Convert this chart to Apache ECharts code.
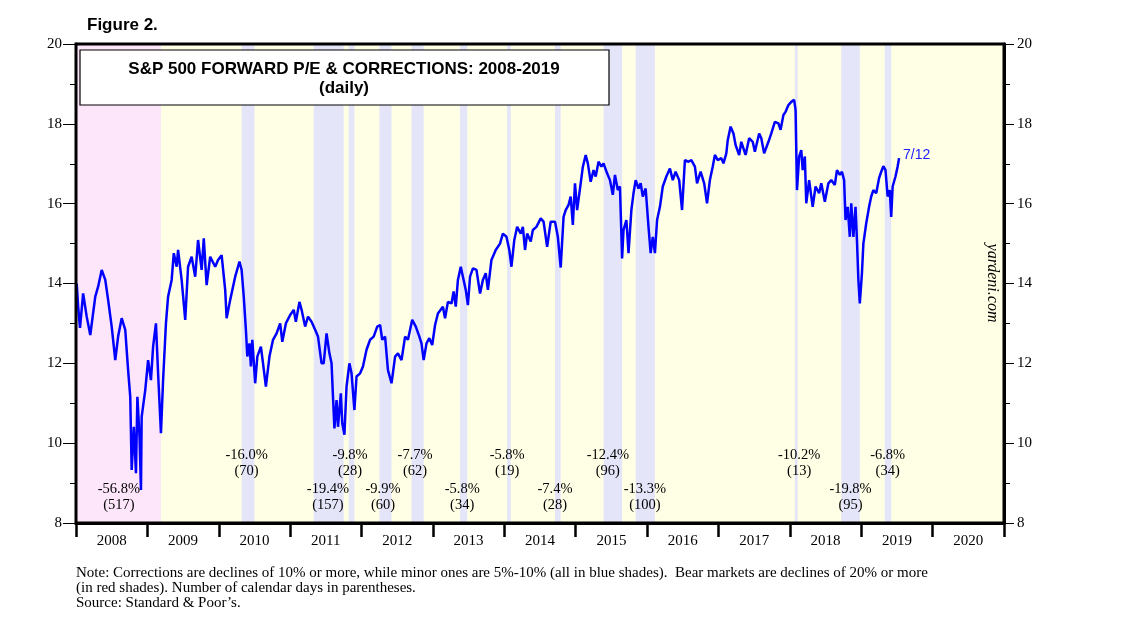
<!DOCTYPE html>
<html>
<head>
<meta charset="utf-8">
<script src="https://cdn.jsdelivr.net/npm/echarts@6/dist/echarts.min.js"></script>
<style>html,body{margin:0;padding:0;background:#fff;}#c{width:1138px;height:628px;}</style>
</head>
<body>
<div id="c"></div>
<script>
// ---- data (decimal years) ----
const years = ['2008','2009','2010','2011','2012','2013','2014','2015','2016','2017','2018','2019','2020'];
const peDates = [2008.01,2008.03,2008.056,2008.10,2008.15,2008.20,2008.27,2008.31,2008.36,2008.41,2008.45,2008.50,2008.55,2008.59,2008.64,2008.69,2008.73,2008.76,2008.78,2008.81,2008.84,2008.86,2008.89,2008.91,2008.92,2008.97,
2009.01,2009.05,2009.08,2009.12,2009.15,2009.19,2009.22,2009.26,2009.29,2009.34,2009.37,2009.41,2009.43,2009.48,2009.53,2009.57,2009.62,2009.67,2009.71,2009.76,2009.79,2009.83,2009.88,2009.95,2009.99,
2010.04,2010.09,2010.11,2010.16,2010.23,2010.29,2010.32,2010.35,2010.38,2010.40,2010.43,2010.45,2010.47,2010.51,2010.54,2010.59,2010.62,2010.66,2010.71,2010.76,2010.81,2010.86,2010.89,2010.94,
2011.00,2011.05,2011.08,2011.13,2011.16,2011.21,2011.25,2011.30,2011.35,2011.39,2011.44,2011.47,2011.51,2011.55,2011.58,2011.60,2011.62,2011.65,2011.67,2011.71,2011.73,2011.76,2011.79,2011.83,2011.86,2011.90,2011.93,2011.98,
2012.02,2012.07,2012.12,2012.17,2012.22,2012.26,2012.29,2012.33,2012.37,2012.42,2012.47,2012.51,2012.56,2012.61,2012.65,2012.71,2012.76,2012.81,2012.84,2012.87,2012.91,2012.95,2012.99,
2013.03,2013.07,2013.14,2013.17,2013.21,2013.26,2013.29,2013.32,2013.35,2013.39,2013.42,2013.46,2013.49,2013.52,2013.56,2013.61,2013.66,2013.70,2013.74,2013.77,2013.82,2013.88,2013.94,2013.98,
2014.03,2014.07,2014.10,2014.14,2014.18,2014.23,2014.26,2014.29,2014.32,2014.37,2014.40,2014.45,2014.51,2014.55,2014.60,2014.65,2014.71,2014.75,2014.79,2014.83,2014.86,2014.90,2014.93,2014.96,2014.99,
2015.02,2015.07,2015.10,2015.14,2015.17,2015.21,2015.25,2015.28,2015.32,2015.36,2015.39,2015.44,2015.48,2015.52,2015.55,2015.59,2015.62,2015.65,2015.67,2015.71,2015.74,2015.78,2015.81,2015.84,2015.88,2015.91,2015.94,2015.98,
2016.02,2016.05,2016.08,2016.11,2016.14,2016.18,2016.22,2016.27,2016.32,2016.36,2016.40,2016.45,2016.49,2016.53,2016.58,2016.62,2016.67,2016.70,2016.75,2016.80,2016.84,2016.88,2016.92,2016.95,2016.99,
2017.04,2017.07,2017.11,2017.13,2017.17,2017.21,2017.24,2017.29,2017.32,2017.38,2017.43,2017.48,2017.51,2017.57,2017.60,2017.64,2017.70,2017.74,2017.79,2017.84,2017.87,2017.91,2017.94,2017.98,
2018.02,2018.06,2018.08,2018.10,2018.13,2018.16,2018.18,2018.21,2018.23,2018.27,2018.29,2018.32,2018.36,2018.41,2018.44,2018.49,2018.54,2018.58,2018.63,2018.66,2018.70,2018.73,2018.76,2018.78,2018.81,2018.84,2018.86,2018.89,2018.92,2018.94,2018.96,2018.98,
2019.01,2019.03,2019.07,2019.11,2019.14,2019.17,2019.21,2019.25,2019.28,2019.31,2019.34,2019.37,2019.40,2019.42,2019.44,2019.48,2019.51,2019.53];
const peValues = [14.0,13.42,12.89,13.75,13.17,12.71,13.67,13.92,14.34,14.09,13.59,12.92,12.08,12.67,13.13,12.84,11.83,11.16,9.33,10.41,9.25,11.16,10.16,8.83,10.66,11.33,
12.08,11.58,12.42,13.0,11.75,10.25,11.58,13.0,13.67,14.09,14.76,14.42,14.84,14.09,13.09,14.42,14.67,14.17,15.09,14.34,15.13,13.96,14.67,14.42,14.59,
14.71,13.84,13.13,13.59,14.17,14.55,14.34,13.67,12.84,12.17,12.50,11.92,12.59,11.50,12.17,12.42,12.0,11.42,12.17,12.59,12.75,13.0,12.54,13.0,
13.21,13.34,13.04,13.54,13.34,12.92,13.17,13.04,12.84,12.67,12.0,12.0,12.75,12.25,12.0,11.16,10.37,11.08,10.41,11.25,10.50,10.21,11.42,12.0,11.75,10.83,11.67,11.75,
11.92,12.34,12.59,12.67,12.92,12.96,12.59,12.67,11.83,11.50,12.17,12.25,12.08,12.67,12.59,13.09,12.92,12.67,12.50,12.08,12.50,12.63,12.46,
12.96,13.25,13.42,13.13,13.54,13.50,13.80,13.42,14.09,14.42,14.17,13.84,13.46,14.17,14.38,14.34,13.75,14.09,14.26,13.84,14.59,14.84,15.0,15.25,
15.17,14.84,14.42,15.09,15.42,15.25,15.42,14.84,15.25,15.05,15.34,15.42,15.63,15.55,14.92,15.55,15.55,15.17,14.40,15.67,15.84,15.97,16.18,15.47,16.51,
15.84,16.51,16.92,17.22,17.01,16.55,16.84,16.68,17.05,16.93,17.01,16.76,16.59,16.22,16.72,16.34,16.43,14.63,15.34,15.59,14.76,15.84,16.26,16.59,16.38,16.51,16.18,16.38,
15.42,14.76,15.17,14.76,15.59,15.92,16.43,16.68,16.88,16.59,16.80,16.59,15.84,17.09,17.05,17.09,16.93,16.51,16.80,16.51,16.01,16.59,16.93,17.22,17.09,
17.14,17.01,17.26,17.59,17.93,17.76,17.47,17.22,17.55,17.22,17.64,17.55,17.30,17.76,17.64,17.26,17.55,17.76,18.05,18.01,17.85,18.22,18.30,18.47,
18.55,18.60,18.35,16.34,17.18,17.34,16.84,17.18,16.01,16.59,16.59,15.92,16.43,16.26,16.51,16.05,16.51,16.59,16.47,16.84,16.72,16.80,16.59,15.59,15.92,15.17,16.01,15.17,15.92,15.09,14.09,13.50,
14.26,15.0,15.51,15.92,16.18,16.34,16.26,16.64,16.80,16.94,16.84,16.18,16.34,15.67,16.43,16.68,16.93,17.14];
const bearStart = [2008.0];
const bearEnd = [2009.19];
const corrStart = [2010.32,2011.33,2011.82,2012.25,2012.70,2013.38,2014.04,2014.71,2015.39,2015.84,2018.07,2018.72,2019.33];
const corrEnd   = [2010.50,2011.75,2011.90,2012.42,2012.87,2013.48,2014.09,2014.79,2015.65,2016.11,2018.11,2018.98,2019.42];
const annX    = [2008.60,2010.39,2011.53,2011.84,2012.30,2012.75,2013.41,2014.04,2014.71,2015.45,2015.97,2018.13,2018.85,2019.37];
const annRow  = ['low','high','low','high','low','high','low','high','low','high','low','high','low','high'];
const annPct  = ['-56.8%','-16.0%','-19.4%','-9.8%','-9.9%','-7.7%','-5.8%','-5.8%','-7.4%','-12.4%','-13.3%','-10.2%','-19.8%','-6.8%'];
const annDays = ['517','70','157','28','60','62','34','19','28','96','100','13','95','34'];
const lastLabel = '7/12';

const rowY = {high: 9.49, low: 8.64};
const serif = '"Liberation Serif","DejaVu Serif",serif';
const sans = '"Liberation Sans",Arial,sans-serif';

const areas = [];
bearStart.forEach((s,i)=>areas.push([{xAxis:s,itemStyle:{color:'#FDE5FA'}},{xAxis:bearEnd[i]}]));
corrStart.forEach((s,i)=>areas.push([{xAxis:s,itemStyle:{color:'#E5E5FA'}},{xAxis:corrEnd[i]}]));

const lineData = peDates.map((d,i)=>[d, peValues[i]]);

const chart = echarts.init(document.getElementById('c'), null, {renderer:'canvas'});
const yAx = (pos, margin, len) => ({
  type:'value', position: pos, min:8, max:20, interval:2,
  axisLine:{show:true, lineStyle:{color:'#000', width:3}},
  axisTick:{show:true, length:len, lineStyle:{color:'#000', width:1}},
  minorTick:{show:true, splitNumber:2, length:6, lineStyle:{color:'#000', width:1}},
  splitLine:{show:false},
  axisLabel:{color:'#000', fontFamily:serif, fontSize:15, margin:margin}
});
chart.setOption({
  animation:false,
  backgroundColor:'#fff',
  grid:{left:76, right:134, top:44, bottom:105, show:true, backgroundColor:'#FFFFE5', borderWidth:0},
  xAxis:[
    {type:'value', min:2008, max:2021, show:false},
    {type:'category', data:years, position:'bottom', boundaryGap:true,
     axisLine:{show:true, lineStyle:{color:'#000', width:3}},
     axisTick:{show:true, length:14, interval:0, lineStyle:{color:'#000', width:2.5}},
     axisLabel:{color:'#000', fontFamily:serif, fontSize:15, margin:11, interval:0},
     splitLine:{show:false}}
  ],
  yAxis:[ yAx('left', 14, 13), yAx('right', 13, 10) ],
  series:[
    {type:'line', xAxisIndex:0, yAxisIndex:0, data:[], z:1, silent:true,
     markArea:{silent:true, data:areas}},
    {type:'line', xAxisIndex:0, yAxisIndex:0, data:lineData, z:3, showSymbol:false, symbol:'none',
     lineStyle:{color:'#0000FF', width:2.5}, silent:true,
     endLabel:{show:true, formatter:lastLabel, color:'#2020FF', fontFamily:sans, fontSize:14, distance:4, offset:[0,-3]}}
  ],
  graphic:[]
});

// annotations placed through the axes' own scales
const g = [
  {type:'rect', z:100, shape:{x:76, y:44, width:928, height:479}, style:{fill:'none', stroke:'#000', lineWidth:3}},
  {type:'rect', z:101, shape:{x:80, y:50, width:529, height:55}, style:{fill:'#fff', stroke:'#000', lineWidth:1.2}},
  {type:'text', z:102, x:344, y:69, style:{text:'S&P 500 FORWARD P/E & CORRECTIONS: 2008-2019', fill:'#000', font:'bold 17px '+sans, textAlign:'center', textVerticalAlign:'middle'}},
  {type:'text', z:102, x:344, y:88, style:{text:'(daily)', fill:'#000', font:'bold 17px '+sans, textAlign:'center', textVerticalAlign:'middle'}},
  {type:'text', z:102, x:87, y:25, style:{text:'Figure 2.', fill:'#000', font:'bold 17px '+sans, textAlign:'left', textVerticalAlign:'middle'}},
  {type:'text', z:102, x:992, y:283, rotation:-Math.PI/2, style:{text:'yardeni.com', fill:'#000', font:'italic 16px '+serif, textAlign:'center', textVerticalAlign:'middle'}},
  {type:'text', z:102, x:76, y:573, style:{text:'Note: Corrections are declines of 10% or more, while minor ones are 5%-10% (all in blue shades).  Bear markets are declines of 20% or more', fill:'#000', font:'15px '+serif, textAlign:'left', textVerticalAlign:'middle'}},
  {type:'text', z:102, x:76, y:588, style:{text:'(in red shades). Number of calendar days in parentheses.', fill:'#000', font:'15px '+serif, textAlign:'left', textVerticalAlign:'middle'}},
  {type:'text', z:102, x:76, y:603, style:{text:'Source: Standard & Poor\u2019s.', fill:'#000', font:'15px '+serif, textAlign:'left', textVerticalAlign:'middle'}}
];
annX.forEach((x,i)=>{
  const p = chart.convertToPixel({xAxisIndex:0, yAxisIndex:0}, [x, rowY[annRow[i]]]);
  g.push({type:'text', z:102, x:p[0], y:p[1]-8, style:{text:annPct[i], fill:'#000', font:'14.5px '+serif, textAlign:'center', textVerticalAlign:'middle'}});
  g.push({type:'text', z:102, x:p[0], y:p[1]+8, style:{text:'(' + annDays[i] + ')', fill:'#000', font:'14.5px '+serif, textAlign:'center', textVerticalAlign:'middle'}});
});
chart.setOption({graphic:g});
</script>
</body>
</html>
